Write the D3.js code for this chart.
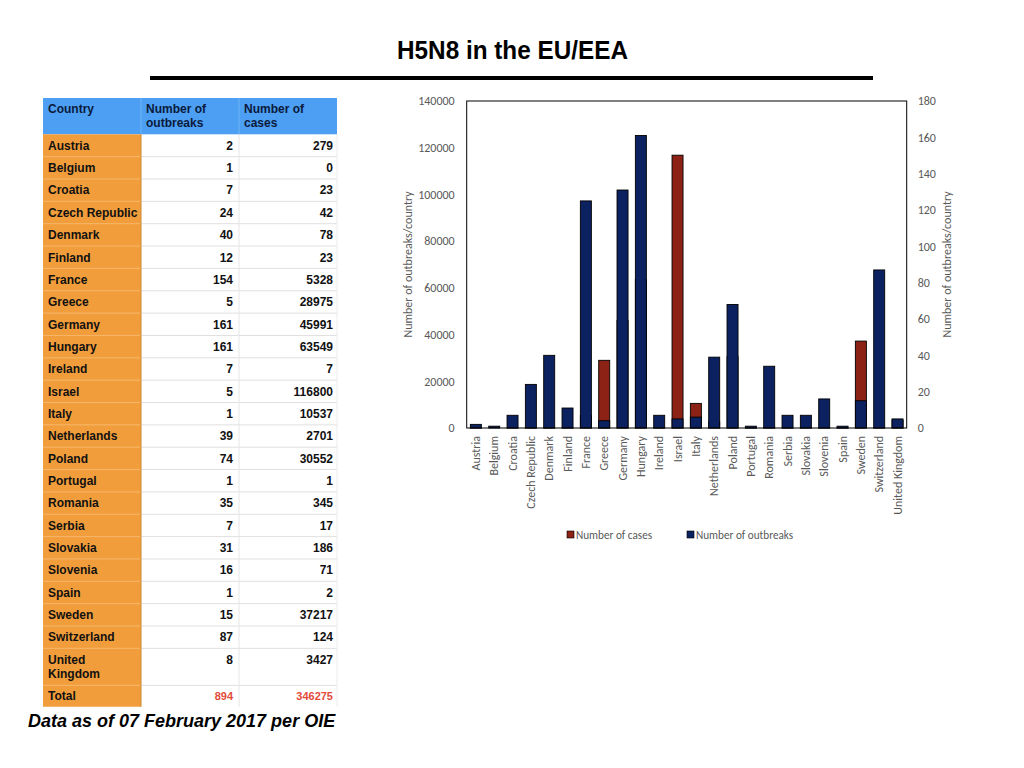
<!DOCTYPE html>
<html>
<head>
<meta charset="utf-8">
<script src="https://cdn.jsdelivr.net/npm/d3@7"></script>
<style>
  html, body { margin: 0; padding: 0; background: #fff; }
  svg { display: block; }
  .tbl { font-family: "Liberation Sans", Arial, Helvetica, sans-serif; font-weight: bold; font-size: 12px; }
  .chart text { font-family: Carlito, Lato, "Open Sans", sans-serif; font-size: 12px; fill: #595959; }
</style>
</head>
<body>
<div id="vis"></div>
<script>
// --- DATA ---

const countries = ["Austria", "Belgium", "Croatia", "Czech Republic", "Denmark", "Finland", "France",
  "Greece", "Germany", "Hungary", "Ireland", "Israel", "Italy", "Netherlands", "Poland", "Portugal",
  "Romania", "Serbia", "Slovakia", "Slovenia", "Spain", "Sweden", "Switzerland", "United Kingdom"];

// table columns
const tableOutbreaks = [2, 1, 7, 24, 40, 12, 154, 5, 161, 161, 7, 5, 1, 39, 74, 1, 35, 7, 31, 16, 1, 15, 87, 8];
const tableCases = [279, 0, 23, 42, 78, 23, 5328, 28975, 45991, 63549, 7, 116800, 10537, 2701, 30552, 1,
  345, 17, 186, 71, 2, 37217, 124, 3427];
const totalOutbreaks = 894;
const totalCases = 346275;

// bar heights as drawn in the chart (outbreaks read on the right axis)
const chartOutbreaks = [2, 1, 7, 24, 40, 11, 125, 4, 131, 161, 7, 5, 6, 39, 68, 1, 34, 7, 7, 16, 1, 15, 87, 5];
const chartCases = tableCases;

const casesTicks = [0, 20000, 40000, 60000, 80000, 100000, 120000, 140000];
const outbreakTicks = [0, 20, 40, 60, 80, 100, 120, 140, 160, 180];

const titleText = "H5N8 in the EU/EEA";
const footText = "Data as of 07 February 2017 per OIE";

const blue = "#0c2160";
const red = "#8b2215";

// --- PAGE ---

const svg = d3.select("#vis").append("svg")
  .attr("width", 1024)
  .attr("height", 768);

// title, squeezed like the condensed face of the original
svg.append("text")
  .attr("x", 397).attr("y", 59)
  .attr("textLength", 231)
  .attr("lengthAdjust", "spacingAndGlyphs")
  .style("font-family", "'Liberation Sans', Arial, sans-serif")
  .style("font-weight", "bold")
  .style("font-size", "26px")
  .text(titleText);

svg.append("rect")
  .attr("x", 150).attr("y", 76)
  .attr("width", 723).attr("height", 4)
  .attr("fill", "#000");

// --- TABLE ---

const colX = [43, 141, 239, 337];
const headerTop = 98, headerBottom = 134.3;
const rowH = 22.35, ukH = 37, totalH = 21.4;

const tbl = svg.append("g").attr("class", "tbl");

const rows = countries.map((c, i) => {
  const y0 = headerBottom + i * rowH;
  const h = c === "United Kingdom" ? ukH : rowH;
  return {name: c, outbreaks: tableOutbreaks[i], cases: tableCases[i], y0: y0, h: h};
});
const totalY0 = headerBottom + (countries.length - 1) * rowH + ukH;
const tableBottom = totalY0 + totalH;

// fonds
tbl.append("rect")
  .attr("x", colX[0]).attr("y", headerTop)
  .attr("width", colX[3] - colX[0]).attr("height", headerBottom - headerTop)
  .attr("fill", "#4c9ff3");
tbl.append("rect")
  .attr("x", colX[0]).attr("y", headerBottom)
  .attr("width", colX[1] - colX[0]).attr("height", tableBottom - headerBottom)
  .attr("fill", "#f29d3b");

// horizontal lines
const lineYs = rows.map(r => r.y0 + r.h);
tbl.selectAll(".hline")
  .data(lineYs)
  .join("line")
  .attr("class", "hline")
  .attr("x1", colX[1]).attr("x2", colX[3])
  .attr("y1", d => d).attr("y2", d => d)
  .attr("stroke", "#e0e0e0").attr("stroke-width", 1);
tbl.selectAll(".hlineO")
  .data(lineYs)
  .join("line")
  .attr("class", "hlineO")
  .attr("x1", colX[0]).attr("x2", colX[1])
  .attr("y1", d => d).attr("y2", d => d)
  .attr("stroke", "#f6b76a").attr("stroke-width", 1);

// vertical lines
tbl.append("line")
  .attr("x1", colX[2]).attr("x2", colX[2])
  .attr("y1", headerBottom).attr("y2", tableBottom)
  .attr("stroke", "#e6e6e6");
tbl.append("line")
  .attr("x1", colX[3]).attr("x2", colX[3])
  .attr("y1", headerBottom).attr("y2", tableBottom)
  .attr("stroke", "#ececec");
tbl.append("line")
  .attr("x1", colX[1]).attr("x2", colX[1])
  .attr("y1", headerBottom).attr("y2", tableBottom)
  .attr("stroke", "#c98837");
tbl.append("line")
  .attr("x1", colX[1]).attr("x2", colX[1])
  .attr("y1", headerTop).attr("y2", headerBottom)
  .attr("stroke", "#6fb3f6");
tbl.append("line")
  .attr("x1", colX[2]).attr("x2", colX[2])
  .attr("y1", headerTop).attr("y2", headerBottom)
  .attr("stroke", "#6fb3f6");

// header text
const headers = [["Country"], ["Number of", "outbreaks"], ["Number of", "cases"]];
headers.forEach((lines, ci) => {
  lines.forEach((t, li) => {
    tbl.append("text")
      .attr("x", colX[ci] + 5)
      .attr("y", 112.5 + li * 14)
      .attr("fill", "#0b1a3c")
      .text(t);
  });
});

// body text
rows.forEach(r => {
  const nameLines = r.name === "United Kingdom" ? ["United", "Kingdom"] : [r.name];
  const base = r.y0 + rowH / 2 + 4.3;
  nameLines.forEach((t, li) => {
    tbl.append("text")
      .attr("x", colX[0] + 5)
      .attr("y", base + li * 14)
      .attr("fill", "#111")
      .text(t);
  });
  tbl.append("text")
    .attr("x", colX[2] - 6).attr("y", base)
    .attr("text-anchor", "end").attr("fill", "#111")
    .text(r.outbreaks);
  tbl.append("text")
    .attr("x", colX[3] - 4).attr("y", base)
    .attr("text-anchor", "end").attr("fill", "#111")
    .text(r.cases);
});

const totalBase = totalY0 + totalH / 2 + 4.3;
tbl.append("text").attr("x", colX[0] + 5).attr("y", totalBase).attr("fill", "#111").text("Total");
tbl.append("text").attr("x", colX[2] - 6).attr("y", totalBase).attr("text-anchor", "end")
  .attr("fill", "#e24a3b").style("font-size", "11px").text(totalOutbreaks);
tbl.append("text").attr("x", colX[3] - 4).attr("y", totalBase).attr("text-anchor", "end")
  .attr("fill", "#e24a3b").style("font-size", "11px").text(totalCases);

svg.append("text")
  .attr("x", 28).attr("y", 727)
  .style("font-family", "'Liberation Sans', Arial, sans-serif")
  .style("font-weight", "bold")
  .style("font-style", "italic")
  .style("font-size", "18px")
  .text(footText);

// --- CHART ---

const plot = {left: 466.7, right: 906.7, top: 101, bottom: 428};

const chart = svg.append("g").attr("class", "chart");

const xScale = d3.scaleBand()
  .domain(countries)
  .range([plot.left, plot.right])
  .paddingInner(0.4)
  .paddingOuter(0.2);
const yCases = d3.scaleLinear().domain([0, 140000]).range([plot.bottom, plot.top]);
const yOut = d3.scaleLinear().domain([0, 180]).range([plot.bottom, plot.top]);

// left axis
const leftAxis = chart.append("g")
  .attr("transform", "translate(" + (plot.left - 12) + ",0)")
  .call(d3.axisLeft(yCases).tickValues(casesTicks).tickSize(0).tickPadding(0).tickFormat(d3.format("d")));
leftAxis.select(".domain").remove();

// right axis
const rightAxis = chart.append("g")
  .attr("transform", "translate(" + (plot.right + 11) + ",0)")
  .call(d3.axisRight(yOut).tickValues(outbreakTicks).tickSize(0).tickPadding(0).tickFormat(d3.format("d")));
rightAxis.select(".domain").remove();

chart.selectAll(".tick text")
  .attr("fill", "#595959")
  .style("font-size", "12px")
  .style("font-family", "Carlito, Lato, 'Open Sans', sans-serif");

// axis titles
chart.append("text")
  .attr("transform", "translate(408," + ((plot.top + plot.bottom) / 2) + ") rotate(-90)")
  .attr("text-anchor", "middle")
  .attr("dy", "0.35em")
  .text("Number of outbreaks/country");
chart.append("text")
  .attr("transform", "translate(947," + ((plot.top + plot.bottom) / 2) + ") rotate(-90)")
  .attr("text-anchor", "middle")
  .attr("dy", "0.35em")
  .text("Number of outbreaks/country");

// case bars (behind)
chart.selectAll(".caseBar")
  .data(countries)
  .join("rect")
  .attr("class", "caseBar")
  .attr("x", d => xScale(d))
  .attr("width", xScale.bandwidth())
  .attr("y", (d, i) => yCases(chartCases[i]))
  .attr("height", (d, i) => plot.bottom - yCases(chartCases[i]))
  .attr("fill", red)
  .attr("stroke", "#000")
  .attr("stroke-width", 0.9);

// outbreak bars (front)
chart.selectAll(".outBar")
  .data(countries)
  .join("rect")
  .attr("class", "outBar")
  .attr("x", d => xScale(d))
  .attr("width", xScale.bandwidth())
  .attr("y", (d, i) => yOut(chartOutbreaks[i]))
  .attr("height", (d, i) => plot.bottom - yOut(chartOutbreaks[i]))
  .attr("fill", blue)
  .attr("stroke", "#000")
  .attr("stroke-width", 0.9);

// plot frame
chart.append("rect")
  .attr("x", plot.left).attr("y", plot.top)
  .attr("width", plot.right - plot.left).attr("height", plot.bottom - plot.top)
  .attr("fill", "none")
  .attr("stroke", "#000")
  .attr("stroke-width", 1);

// category labels
chart.selectAll(".xLabel")
  .data(countries)
  .join("text")
  .attr("class", "xLabel")
  .attr("transform", d => "translate(" + (xScale(d) + xScale.bandwidth() / 2) + ",436) rotate(-90)")
  .attr("text-anchor", "end")
  .attr("dy", "0.35em")
  .text(d => d);

// legend
const legend = [{label: "Number of cases", color: red, x: 567}, {label: "Number of outbreaks", color: blue, x: 687}];
const lg = chart.selectAll(".legendItem")
  .data(legend)
  .join("g")
  .attr("class", "legendItem")
  .attr("transform", d => "translate(" + d.x + ",531)");
lg.append("rect")
  .attr("width", 7).attr("height", 7)
  .attr("fill", d => d.color)
  .attr("stroke", "#000").attr("stroke-width", 0.6);
lg.append("text")
  .attr("x", 9).attr("y", 7.5)
  .style("font-size", "11.2px")
  .text(d => d.label);
</script>
</body>
</html>
